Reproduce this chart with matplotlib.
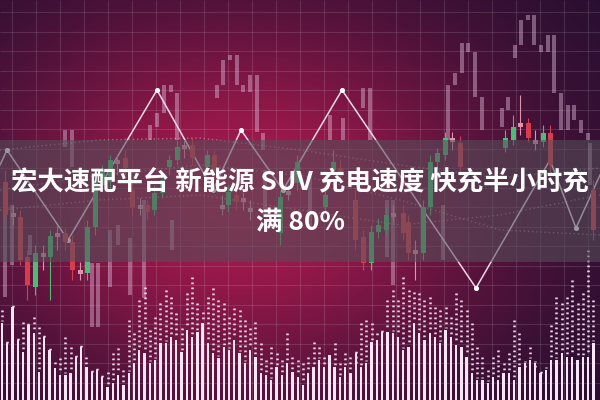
import matplotlib.pyplot as plt
import numpy as np

plt.rcParams['font.family'] = ['Noto Sans CJK SC', 'DejaVu Sans']

# ---- title text
line1 = "宏大速配平台 新能源 SUV 充电速度 快充半小时充"
line2 = "满 80%"

# ---- faded (background) candles: x, body top, body bottom (pixel coords)
fx   = [150, 157, 164, 171, 177, 217, 223, 230, 237, 243, 250, 257, 263,
        330, 343, 363, 370, 448, 455, 462, 468, 475, 482,
        502, 508, 515, 521, 528, 534, 541, 548, 554, 561, 568, 574, 581, 588,
        5, 12, 30, 65, 72, 92, 98, 110, 118, 130, 144, 172, 265, 310,
        387, 393, 443, 590]
ftop = [125, 113, 85, 85, 93, 85, 60, 55, 55, 85, 75, 75, 133,
        115, 118, 88, 88, 85, 73, 43, 43, 52, 97,
        108, 97, 45, 20, 15, 15, 45, 35, 35, 93, 105, 105, 120, 133,
        195, 205, 235, 130, 130, 263, 263, 230, 225, 238, 200, 220, 170, 175,
        200, 200, 205, 143]
fbot = [140, 127, 113, 92, 140, 98, 85, 60, 85, 92, 92, 132, 150,
        140, 140, 108, 140, 140, 85, 73, 52, 97, 130,
        127, 110, 58, 45, 20, 45, 52, 52, 93, 130, 130, 120, 133, 140,
        297, 265, 255, 147, 167, 327, 327, 287, 245, 295, 298, 250, 215, 230,
        257, 285, 260, 185]

# ---- coloured candles: x, body top, body bottom, kind, high, low
cx    = [5, 13, 20, 27, 35, 43, 50, 57, 65, 72, 80, 87, 95, 102, 110, 117, 125,
         132, 140, 147, 154, 162, 169, 177, 184, 192, 207, 214, 222, 228, 236,
         243, 250, 280, 288, 297, 325, 333, 340, 355, 363, 371, 378, 386, 393,
         403, 408, 415, 423, 430, 437, 445, 452, 460, 505, 513, 520, 528, 535,
         543, 550, 593]
ctop  = [182, 213, 217, 257, 253, 253, 236, 233, 233, 242, 270, 227, 180, 170,
         160, 160, 158, 190, 205, 205, 193, 180, 160, 147, 145, 145, 155, 155,
         205, 192, 195, 198, 208, 197, 191, 162, 195, 162, 168, 200, 237, 232,
         225, 215, 213, 213, 222, 250, 207, 162, 153, 138, 138, 143, 138, 127,
         123, 123, 140, 133, 133, 190]
cbot  = [215, 217, 260, 285, 287, 257, 257, 237, 242, 270, 274, 273, 227, 185,
         182, 164, 168, 207, 209, 212, 210, 193, 167, 160, 149, 158, 167, 172,
         209, 205, 202, 202, 212, 233, 195, 183, 207, 170, 176, 240, 263, 263,
         232, 230, 217, 233, 253, 254, 253, 207, 162, 155, 142, 167, 148, 140,
         127, 138, 144, 142, 165, 230]
ckind = "rdrrgdgdrrdggggdr" "rdrggggdrgrdgrdd" "gdgggrrrgggd" "rrdggggdrggdrdgrr"
chigh = [170, 205, 210, 250, 245, 245, 230, 225, 228, 235, 262, 220, 170, 165,
         155, 155, 150, 180, 198, 200, 185, 172, 155, 140, 140, 138, 150, 150,
         195, 185, 190, 192, 200, 190, 185, 155, 185, 150, 160, 190, 230, 225,
         218, 208, 205, 205, 215, 240, 200, 155, 148, 132, 132, 136, 130, 115,
         95, 118, 130, 125, 125, 180]
clow  = [225, 225, 265, 300, 295, 270, 300, 250, 250, 280, 280, 280, 235, 190,
         190, 175, 175, 215, 215, 220, 215, 198, 175, 165, 158, 165, 172, 180,
         215, 212, 210, 210, 220, 245, 200, 190, 212, 175, 182, 250, 270, 270,
         238, 235, 222, 240, 260, 280, 260, 215, 168, 160, 150, 175, 152, 145,
         135, 142, 150, 147, 172, 240]

# ---- zigzag price line
zx = [0, 7, 68, 157, 213, 241, 283, 342, 476, 550, 576, 600]
zy = [165, 150, 240, 90, 190, 130, 190, 90, 288, 160, 228, 175]

# ---- dotted moving-average style curves
ma_x = [0, 100, 200, 300, 400, 500, 600]
ma1 = [190, 175, 165, 175, 200, 230, 235]
ma2 = [210, 200, 195, 210, 225, 215, 195]
ma3 = [150, 140, 138, 150, 165, 178, 168]

# ---- volume bars: solid top and dotted top (pixel y)
vol_solid = [323, 343, 307, 340, 352, 325, 333, 372, 337, 350, 368, 375, 375,
             373, 357, 347, 367, 372, 370, 377, 387, 383, 375, 385, 373, 363,
             350, 353, 363, 360, 343, 343, 337, 340, 352, 330, 337, 332, 323,
             343, 353, 358, 347, 350, 340, 353, 363, 350, 357, 373, 375, 380,
             367, 375, 363, 372, 377,
             385, 373, 367, 360, 367, 355, 367, 377, 367, 373, 353, 367, 363,
             342, 340, 332, 332, 333, 337, 350, 347, 323, 333, 340, 333, 337,
             343, 330, 337, 345, 347, 357, 373, 380, 380, 383, 377, 380, 373,
             373, 380, 367, 363, 360, 363, 373, 370, 360, 360, 353, 357, 357,
             360, 357, 357, 343]
vol_dots = [310, 343, 307, 340, 322, 325, 317, 327, 337, 350, 362, 358, 337,
            347, 357, 347, 357, 372, 370, 377, 372, 353, 348, 370, 320, 333,
            300, 287, 330, 317, 303, 290, 297, 313, 328, 293, 277, 303, 312,
            297, 288, 300, 303, 317, 308, 310, 320, 328, 322, 343, 360, 347,
            353, 360, 333, 357, 360,
            363, 357, 342, 347, 357, 362, 343, 363, 353, 357, 363, 323, 320,
            323, 333, 332, 300, 290, 300, 277, 290, 292, 293, 300, 297, 307,
            310, 307, 317, 293, 300, 310, 323, 347, 357, 370, 357, 350, 363,
            353, 320, 333, 367, 347, 367, 373, 367, 325, 297, 303, 297, 280,
            303, 293, 250, 300]

W, H = 600, 400
fig = plt.figure(figsize=(6, 4), dpi=100)
ax = fig.add_axes([0, 0, 1, 1])
ax.set_xlim(0, W)
ax.set_ylim(H, 0)
ax.axis('off')

# background glow
yy, xx = np.mgrid[0:H, 0:W]
glow = np.exp(-((xx - 240) / 270.0) ** 2 - ((yy - 200) / 200.0) ** 2)
base = np.array([34, 14, 48]) / 255
hot = np.array([168, 26, 78]) / 255
img = base + glow[..., None] * (hot - base)
ax.imshow(img, extent=(0, W, H, 0), aspect='auto', zorder=0)

# grid
ax.vlines(np.arange(12, W, 24), 0, H, color='white', alpha=0.12, lw=0.8, zorder=1)
ax.hlines(np.arange(12, H, 19.5), 0, W, color='white', alpha=0.12, lw=0.8, zorder=1)

# faded candles
fx = np.array(fx); ftop = np.array(ftop); fbot = np.array(fbot)
ax.bar(fx, fbot - ftop, bottom=ftop, width=4.5, color=(0.86, 0.72, 0.84),
       alpha=0.45, zorder=2)

# dotted curves
for m in (ma1, ma2, ma3):
    ax.plot(ma_x, m, ls=(0, (1, 2)), color='white', alpha=0.35, lw=1, zorder=2)

# volume
vx = 2 + 5.28 * np.arange(len(vol_solid))
vs = np.array(vol_solid); vd = np.array(vol_dots)
ax.bar(vx, H - vs, bottom=vs, width=2.3, color=(0.97, 0.90, 0.96), zorder=3)
ax.vlines(vx, vd, vs - 2, color=(0.96, 0.86, 0.94), lw=1.8,
          linestyles=[(0, (0.7, 1.3))], zorder=3)

# zigzag
ax.plot(zx, zy, color=(0.93, 0.85, 0.92), lw=1.1, zorder=3)
ax.scatter(zx[1:-1], zy[1:-1], s=7, color='white', zorder=3)

# coloured candles
colors = {'g': (0.30, 0.74, 0.46), 'r': (0.85, 0.24, 0.30), 'd': (0.88, 0.58, 0.66)}
cc = [colors[k] for k in ckind]
cx = np.array(cx); ctop = np.array(ctop); cbot = np.array(cbot)
ax.vlines(cx, chigh, clow, colors=cc, lw=0.8, zorder=3)
ax.bar(cx, cbot - ctop, bottom=ctop, width=5, color=cc, zorder=3)

# banner
ax.axhspan(140, 262, color=(0.33, 0.31, 0.35), alpha=0.58, lw=0, zorder=4)

ax.text(W / 2, 183, line1, ha='center', va='center', fontsize=19,
        fontweight='bold', color='white', zorder=6)
ax.text(W / 2, 222, line2, ha='center', va='center', fontsize=19,
        fontweight='bold', color='white', zorder=6)

fig.savefig('out.png', dpi=100)
